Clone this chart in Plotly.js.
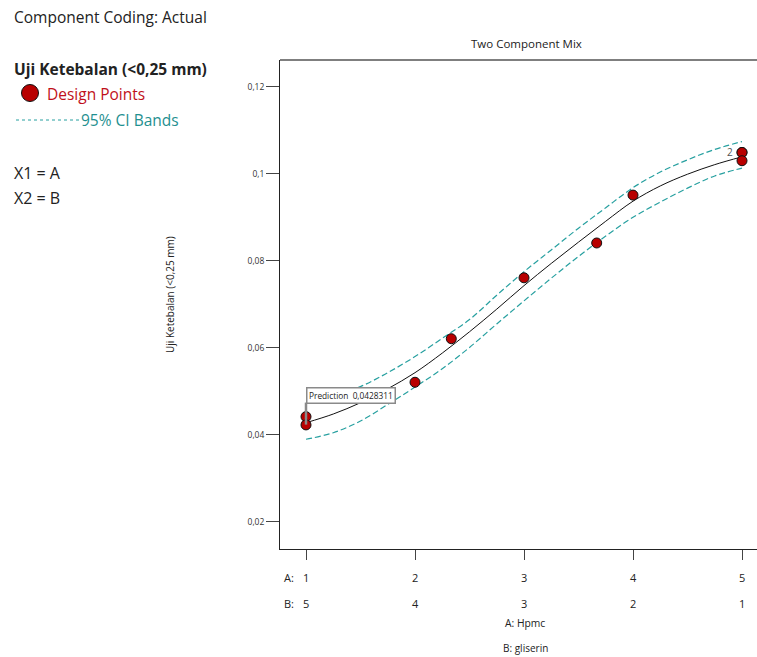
<!DOCTYPE html>
<html>
<head>
<meta charset="utf-8">
<script src="https://cdn.plot.ly/plotly-3.0.1.min.js"></script>
<style>html,body{margin:0;padding:0;background:#fff;}#chart{width:757px;height:657px;}</style>
</head>
<body>
<div id="chart"></div>
<script>
// ---- data ----
const tickA = [1, 2, 3, 4, 5];
const tickB = [5, 4, 3, 2, 1];
const designA = [1, 1, 2, 2.333, 3, 3.667, 4, 5, 5, 5];
const designY = [0.0442, 0.0423, 0.0521, 0.0621, 0.0761, 0.0841, 0.0951, 0.1049, 0.1049, 0.1030];
const fitA = [1, 1.25, 1.5, 1.75, 2, 2.25, 2.5, 2.75, 3, 3.25, 3.5, 3.75, 4, 4.25, 4.5, 4.75, 5];
const fitY = [0.0428, 0.0448, 0.0474, 0.0506, 0.0543, 0.0588, 0.0637, 0.0689, 0.0743, 0.0794, 0.0843, 0.0891, 0.0937, 0.0972, 0.0999, 0.1021, 0.1039];
const ciUpper = [0.0473, 0.0489, 0.0511, 0.0543, 0.0580, 0.0622, 0.0665, 0.0721, 0.0775, 0.0825, 0.0875, 0.0922, 0.0968, 0.1004, 0.1032, 0.1056, 0.1074];
const ciLower = [0.0390, 0.0405, 0.0432, 0.0470, 0.0510, 0.0552, 0.0601, 0.0655, 0.0708, 0.0760, 0.0810, 0.0857, 0.0900, 0.0935, 0.0967, 0.0995, 0.1013];
const predictionA = 1;
const predictionValue = 0.0428311;
const replicateLabel = "2";

// ---- geometry helpers ----
const W = 757, H = 657, L = 280, R = 0, T = 60, B = 108;
const PW = W - L - R, PH = H - T - B;
const px = x => (x - L) / PW;
const py = y => (H - B - y) / PH;

const FONT = '"Open Sans", "Noto Sans", sans-serif';
const TEAL = '#27a0a0';
const RED = '#b80000';

const traces = [
  {x: fitA, y: ciUpper, mode: 'lines', line: {color: TEAL, width: 1.2, dash: '6px,3px', shape: 'spline'}, hoverinfo: 'skip', showlegend: false},
  {x: fitA, y: ciLower, mode: 'lines', line: {color: TEAL, width: 1.2, dash: '6px,3px', shape: 'spline'}, hoverinfo: 'skip', showlegend: false},
  {x: fitA, y: fitY, mode: 'lines', line: {color: '#111', width: 1, shape: 'spline'}, showlegend: false},
  {x: designA, y: designY, mode: 'markers', marker: {color: RED, size: 10, line: {color: '#111', width: 1}}, showlegend: false}
];

const ann = [];
function txt(x, y, text, opts) {
  ann.push(Object.assign({xref: 'paper', yref: 'paper', x: x, y: y, text: text, showarrow: false,
    xanchor: 'left', yanchor: 'middle', font: {family: FONT, size: 15.5, color: '#222'}}, opts || {}));
}
txt(px(12), py(17), 'Component Coding: Actual');
txt(px(12), py(69), '<b>Uji Ketebalan (&lt;0,25 mm)</b>');
txt(px(45), py(94), 'Design Points', {font: {family: FONT, size: 15.5, color: '#c0101a'}});
txt(px(79), py(120), '95% CI Bands', {font: {family: FONT, size: 15.5, color: '#1f9090'}});
txt(px(12), py(173), 'X1 = A', {font: {family: FONT, size: 16, color: '#222'}});
txt(px(12), py(198), 'X2 = B', {font: {family: FONT, size: 16, color: '#222'}});
txt(px(526), py(43), 'Two Component Mix', {xanchor: 'center', font: {family: FONT, size: 11.5, color: '#222'}});
txt(px(170), py(295), 'Uji Ketebalan (&lt;0,25 mm)', {xanchor: 'center', textangle: -90, font: {family: FONT, size: 10, color: '#222'}});
txt(px(525), py(623), 'A: Hpmc', {xanchor: 'center', font: {family: FONT, size: 10.3, color: '#222'}});
txt(px(525), py(648), 'B: gliserin', {xanchor: 'center', font: {family: FONT, size: 10, color: '#222'}});

// bottom tick label rows
tickA.forEach((a, i) => {
  ann.push({xref: 'x', yref: 'paper', x: a, y: py(577), text: String(a), showarrow: false, xanchor: 'center', yanchor: 'middle', font: {family: FONT, size: 11, color: '#222'}});
  ann.push({xref: 'x', yref: 'paper', x: a, y: py(603), text: String(tickB[i]), showarrow: false, xanchor: 'center', yanchor: 'middle', font: {family: FONT, size: 11, color: '#222'}});
});
ann.push({xref: 'x', yref: 'paper', x: tickA[0], y: py(577), xshift: -17, text: 'A:', showarrow: false, xanchor: 'center', yanchor: 'middle', font: {family: FONT, size: 11, color: '#222'}});
ann.push({xref: 'x', yref: 'paper', x: tickA[0], y: py(603), xshift: -17, text: 'B:', showarrow: false, xanchor: 'center', yanchor: 'middle', font: {family: FONT, size: 11, color: '#222'}});

// prediction flag
ann.push({xref: 'x', yref: 'y', x: predictionA, y: predictionValue, yshift: 19, xanchor: 'left', yanchor: 'bottom',
  text: 'Prediction&nbsp;&nbsp;' + String(predictionValue).replace('.', ','), showarrow: false,
  bgcolor: '#fff', bordercolor: '#8a8a8a', borderwidth: 1.5, borderpad: 1.5, font: {family: FONT, size: 8.3, color: '#222'}});
// replicate label
ann.push({xref: 'x', yref: 'y', x: designA[7], y: designY[7], xshift: -12, text: replicateLabel, showarrow: false,
  xanchor: 'center', yanchor: 'middle', font: {family: FONT, size: 10, color: '#555'}});

const shapes = [
  {type: 'line', xref: 'paper', yref: 'paper', x0: 0, x1: 1, y0: 1, y1: 1, line: {color: '#555', width: 1.5}},
  {type: 'line', xref: 'x', yref: 'y', x0: predictionA, x1: predictionA, ysizemode: 'pixel', yanchor: predictionValue, y0: -2, y1: 20, line: {color: '#8a8a8a', width: 2.5}},
  {type: 'circle', xref: 'paper', yref: 'paper', x0: px(21.5), x1: px(38.5), y0: py(101.5), y1: py(84.5), fillcolor: RED, line: {color: '#111', width: 1}},
  {type: 'line', xref: 'paper', yref: 'paper', x0: px(16), x1: px(79), y0: py(120), y1: py(120), line: {color: TEAL, width: 1, dash: 'dot'}}
];

const layout = {
  width: W, height: H, autosize: false,
  margin: {l: L, r: R, t: T, b: B, pad: 0},
  paper_bgcolor: '#fff', plot_bgcolor: '#fff',
  separators: ',.',
  showlegend: false,
  font: {family: FONT, color: '#222'},
  xaxis: {range: [0.7615, 5.1376], showgrid: false, zeroline: false, showline: true, linecolor: '#222', linewidth: 1,
    tickvals: tickA, ticks: 'outside', ticklen: 10, tickcolor: '#444', tickwidth: 1, showticklabels: false},
  yaxis: {range: [0.01379, 0.12614], showgrid: false, zeroline: false, showline: true, linecolor: '#222', linewidth: 1,
    tick0: 0.02, dtick: 0.02, ticks: 'outside', ticklen: 13, tickcolor: '#444', tickwidth: 1,
    tickfont: {family: FONT, size: 8.5, color: '#333'}},
  annotations: ann,
  shapes: shapes
};

Plotly.newPlot('chart', traces, layout, {displayModeBar: false, staticPlot: true});
</script>
</body>
</html>
